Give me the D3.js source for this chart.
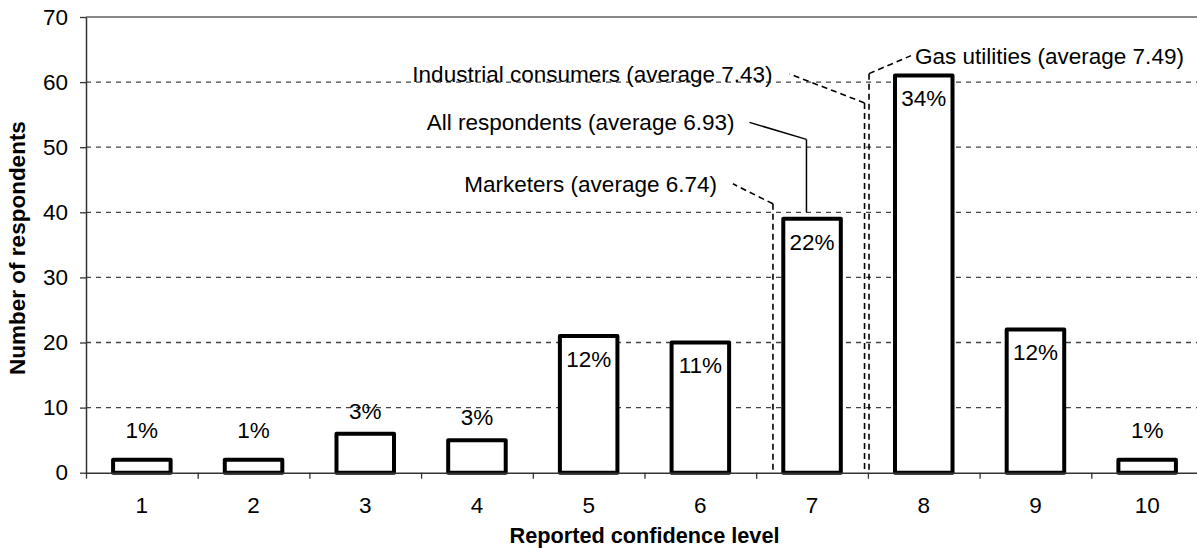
<!DOCTYPE html>
<html>
<head>
<meta charset="utf-8">
<script src="https://cdn.jsdelivr.net/npm/d3@7"></script>
<style>
  html, body { margin: 0; padding: 0; background: #fff; overflow: hidden; }
  svg { display: block; font-family: "Liberation Sans", Arial, sans-serif; }
</style>
</head>
<body>
<svg id="chart" width="1197" height="548"></svg>
<script>
// ---- data ----
const categories = [1, 2, 3, 4, 5, 6, 7, 8, 9, 10];
const respondents = [2, 2, 6, 5, 21, 20, 39, 61, 22, 2];
const percentLabels = ["1%", "1%", "3%", "3%", "12%", "11%", "22%", "34%", "12%", "1%"];
const yTicks = [0, 10, 20, 30, 40, 50, 60, 70];
const avgLabels = ["Marketers (average 6.74)", "All respondents (average 6.93)", "Industrial consumers (average 7.43)", "Gas utilities (average 7.49)"];
const avgValues = [6.74, 6.93, 7.43, 7.49];
// where the average markers are drawn on the picture
const avgDrawnAt = [6.65, 6.95, 7.47, 7.51];
const avgLineTop = [41.3, 51.2, 56.8, 61.3];
const avgLineBottom = [0, 40, 0, 0];
const avgSolid = [false, true, false, false];

// ---- layout ----
const pLeft = 86, pRight = 1203, pTop = 17, pBottom = 472.7;
const svg = d3.select("#chart");
const xPos = d3.scaleLinear().domain([0.5, 10.5]).range([pLeft, pRight]);
const xBand = d3.scaleBand().domain(categories).range([pLeft, pRight]).paddingInner(0.485).paddingOuter(0.2425);
const y = d3.scaleLinear().domain([0, 70]).range([pBottom, pTop]);
const FONT = 22.5;

// grid
svg.append("g").selectAll("line").data(yTicks.filter(d => d > 0 && d < 70)).join("line")
  .attr("x1", pLeft).attr("x2", pRight)
  .attr("y1", d => y(d)).attr("y2", d => y(d))
  .attr("stroke", "#444").attr("stroke-width", 1.3).attr("stroke-dasharray", "5,5");

// plot border (top / right)
svg.append("path")
  .attr("d", `M${pLeft},${y(70)}H${pRight}V${pBottom}`)
  .attr("fill", "none").attr("stroke", "#888").attr("stroke-width", 2);

// average marker lines
const ann = svg.append("g");
// leader offsets (pixel layout for the callouts)
const leaderDX = [-40, -57, -75, 42];
const leaderDY = [-20, -17, -29, -18];
const textGap = [16, 15, 17, 4];
avgValues.forEach((v, i) => {
  const xv = xPos(avgDrawnAt[i]);
  const yt = y(avgLineTop[i]);
  const yb = y(avgLineBottom[i]);
  const dash = avgSolid[i] ? null : "6,4";
  const sw = avgSolid[i] ? 1.5 : 1.6;
  ann.append("line").attr("x1", xv).attr("x2", xv).attr("y1", yt).attr("y2", yb)
    .attr("stroke", "#000").attr("stroke-width", sw).attr("stroke-dasharray", dash);
  const lx = xv + leaderDX[i], ly = yt + leaderDY[i];
  ann.append("line").attr("x1", xv).attr("y1", yt).attr("x2", lx).attr("y2", ly)
    .attr("stroke", "#000").attr("stroke-width", sw).attr("stroke-dasharray", dash);
  const goesRight = leaderDX[i] > 0;
  ann.append("text")
    .attr("x", goesRight ? lx + textGap[i] : lx - textGap[i])
    .attr("y", ly)
    .attr("dy", "0.35em")
    .attr("text-anchor", goesRight ? "start" : "end")
    .attr("font-size", FONT).attr("fill", "#000")
    .text(avgLabels[i]);
});

// bars
svg.append("g").selectAll("rect").data(categories).join("rect")
  .attr("x", (d) => xBand(d))
  .attr("width", xBand.bandwidth())
  .attr("y", (d, i) => y(respondents[i]))
  .attr("height", (d, i) => y(0) - y(respondents[i]))
  .attr("fill", "#fff").attr("stroke", "#000").attr("stroke-width", 4)
  .attr("stroke-linejoin", "round");

// percent labels
svg.append("g").selectAll("text").data(categories).join("text")
  .attr("x", d => xBand(d) + xBand.bandwidth() / 2)
  .attr("y", (d, i) => {
    const v = respondents[i];
    if (v >= 10) return y(v) + 23;
    return Math.min(y(v) - 23, y(6.5));
  })
  .attr("dy", "0.35em")
  .attr("text-anchor", "middle")
  .attr("font-size", FONT).attr("fill", "#000")
  .text((d, i) => percentLabels[i]);

// y axis
const yAxis = svg.append("g").attr("transform", `translate(${pLeft},0)`)
  .call(d3.axisLeft(y).tickValues(yTicks).tickSize(6).tickPadding(12).tickSizeOuter(0));
yAxis.select(".domain").attr("stroke", "#333").attr("stroke-width", 1.5);
yAxis.selectAll(".tick line").attr("stroke", "#333").attr("stroke-width", 1.3);
yAxis.selectAll(".tick text").attr("font-size", FONT).attr("font-family", "Liberation Sans, Arial, sans-serif").attr("fill", "#000");

// x axis: ticks at category boundaries, labels at centers
const xAxis = svg.append("g").attr("transform", `translate(0,${pBottom})`)
  .call(d3.axisBottom(xPos).tickValues(d3.range(0.5, 11, 1)).tickSize(6).tickFormat("").tickSizeOuter(0));
xAxis.select(".domain").attr("stroke", "#333").attr("stroke-width", 1.5);
xAxis.selectAll(".tick line").attr("stroke", "#333").attr("stroke-width", 1.3);

svg.append("g").selectAll("text").data(categories).join("text")
  .attr("x", d => xPos(d))
  .attr("y", 505)
  .attr("dy", "0.35em")
  .attr("text-anchor", "middle")
  .attr("font-size", FONT).attr("fill", "#000")
  .text(d => d);

// axis titles
svg.append("text")
  .attr("x", (pLeft + pRight) / 2).attr("y", 535).attr("dy", "0.35em")
  .attr("text-anchor", "middle").attr("font-size", 21.7).attr("font-weight", "bold")
  .text("Reported confidence level");

svg.append("text")
  .attr("transform", `translate(17.5,248) rotate(-90)`)
  .attr("dy", "0.35em")
  .attr("text-anchor", "middle").attr("font-size", FONT).attr("font-weight", "bold")
  .text("Number of respondents");
</script>
</body>
</html>
